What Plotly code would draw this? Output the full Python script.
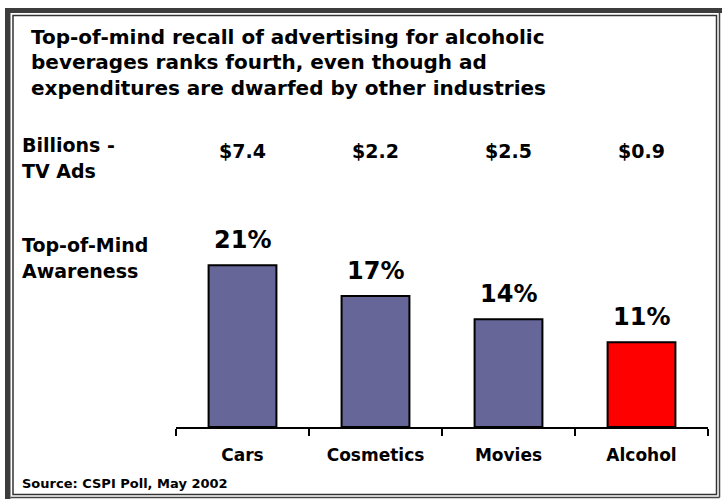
import plotly.graph_objects as go

W, H = 722, 499

categories = ["Cars", "Cosmetics", "Movies", "Alcohol"]
awareness = [21, 17, 14, 11]
tv_ads_billions = [7.4, 2.2, 2.5, 0.9]
bar_colors = ["#666699", "#666699", "#666699", "#FF0000"]

title_lines = [
    "Top-of-mind recall of advertising for alcoholic",
    "beverages ranks fourth, even though ad",
    "expenditures are dwarfed by other industries",
]
row_label_tv = ["Billions -", "TV Ads"]
row_label_aw = ["Top-of-Mind", "Awareness"]
source_text = "Source: CSPI Poll, May 2002"

FONT = "'DejaVu Sans', Verdana, sans-serif"

def px(x):
    return x / W

def py(y):
    return 1 - y / H

fig = go.Figure()
fig.add_trace(go.Bar(
    x=categories,
    y=awareness,
    marker=dict(color=bar_colors, line=dict(color="black", width=2)),
    width=0.51,
    hoverinfo="skip",
))

annotations = []

def left_text(text, x, y, size):
    annotations.append(dict(
        x=px(x), y=py(y), xref="paper", yref="paper", xanchor="left", yanchor="middle",
        text=text, showarrow=False, align="left",
        font=dict(family=FONT, size=size, color="black", weight="bold"),
    ))

# title, one line at a time
for i, line in enumerate(title_lines):
    left_text(line, 29, 37 + i * 25.5, 20)
# row labels
for i, line in enumerate(row_label_tv):
    left_text(line, 20, 145 + i * 26, 19)
for i, line in enumerate(row_label_aw):
    left_text(line, 20, 245 + i * 26, 19)
# dollar values
for c, v in zip(categories, tv_ads_billions):
    annotations.append(dict(
        x=c, y=py(151), xref="x", yref="paper", xanchor="center", yanchor="middle",
        text=f"${v:.1f}", showarrow=False,
        font=dict(family=FONT, size=19, color="black", weight="bold"),
    ))
# percent labels
for c, v in zip(categories, awareness):
    annotations.append(dict(
        x=c, y=v, xref="x", yref="y", xanchor="center", yanchor="middle",
        yshift=25, text=f"{v}%", showarrow=False,
        font=dict(family=FONT, size=24, color="black", weight="bold"),
    ))
# source
left_text(source_text, 20, 483, 13)

shapes = [
    # thick dark band top and left
    dict(type="rect", xref="paper", yref="paper", x0=px(5), x1=px(722), y0=py(13), y1=py(8),
         fillcolor="#3c3c3c", line=dict(width=0), layer="above"),
    dict(type="rect", xref="paper", yref="paper", x0=px(5), x1=px(10.5), y0=py(499), y1=py(8),
         fillcolor="#3c3c3c", line=dict(width=0), layer="above"),
    # inner thin frame
    dict(type="rect", xref="paper", yref="paper", x0=px(13), x1=px(716.5), y0=py(494.5), y1=py(15.5),
         fillcolor="rgba(0,0,0,0)", line=dict(color="#333333", width=1.5), layer="above"),
    # outer thin lines right and bottom
    dict(type="line", xref="paper", yref="paper", x0=px(719.5), x1=px(719.5), y0=py(497.5), y1=py(13),
         line=dict(color="#444444", width=1.5), layer="above"),
    dict(type="line", xref="paper", yref="paper", x0=px(10.5), x1=px(719.5), y0=py(497.5), y1=py(497.5),
         line=dict(color="#444444", width=1.5), layer="above"),
]

fig.update_layout(
    width=W, height=H,
    margin=dict(l=0, r=0, t=0, b=0),
    paper_bgcolor="white", plot_bgcolor="white",
    showlegend=False,
    annotations=annotations,
    shapes=shapes,
    bargap=0.49,
    xaxis=dict(
        domain=[px(176), px(708)],
        showline=True, linecolor="black", linewidth=2,
        ticks="outside", tickson="boundaries", ticklen=7, tickwidth=2, tickcolor="black",
        tickfont=dict(family=FONT, size=17, color="black", weight="bold"),
        ticklabelstandoff=12,
        showgrid=False, zeroline=False, fixedrange=True,
    ),
    yaxis=dict(
        domain=[py(427), py(196)],
        range=[0, 30],
        visible=False, showgrid=False, zeroline=False, fixedrange=True,
    ),
)

fig.write_html("out.html", config={"displayModeBar": False})
